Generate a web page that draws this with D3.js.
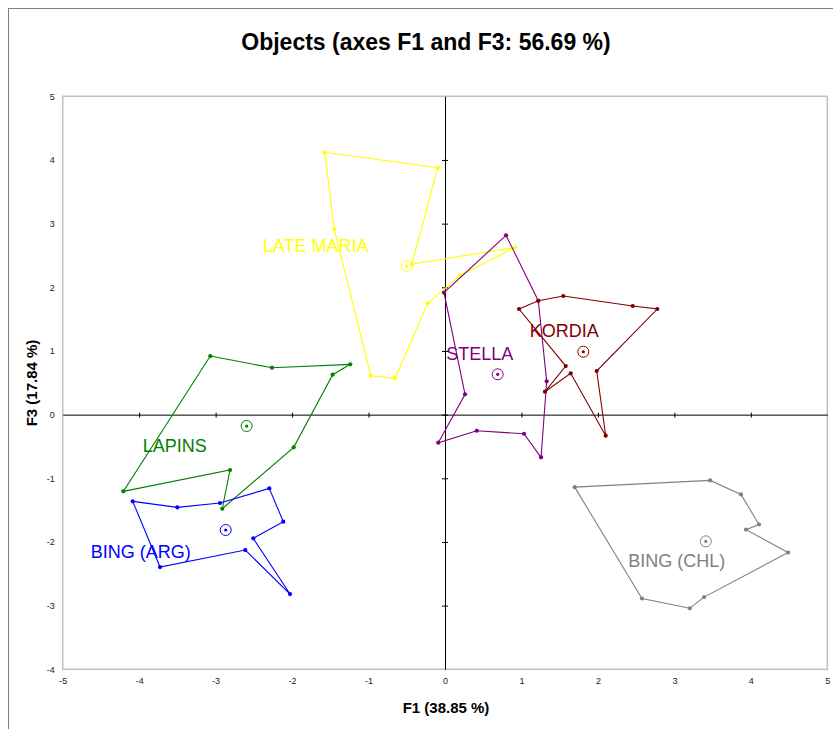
<!DOCTYPE html>
<html>
<head>
<meta charset="utf-8">
<script src="https://cdn.jsdelivr.net/npm/d3@7"></script>
<style>
  html, body { margin: 0; padding: 0; background: #fff; }
  svg { display: block; font-family: "Liberation Sans", Arial, sans-serif; }
</style>
</head>
<body>
<svg id="chart" width="833" height="729"></svg>
<script>
// Factor map: observation polygons per cultivar on axes F1 and F3
const groupNames = ["LATE MARIA", "STELLA", "KORDIA", "LAPINS", "BING (ARG)", "BING (CHL)"];
const groupColors = ["#ffff00", "#800080", "#800000", "#008000", "#0000ff", "#808080"];

// polygon vertices [F1, F3] in drawing order
const lateMaria = [[-1.573, 4.120], [-0.095, 3.878], [-0.432, 2.365], [0.916, 2.624], [0.196, 2.185],
                   [-0.226, 1.748], [-0.654, 0.570], [-0.972, 0.611], [-1.448, 2.910]];
const stella = [[-0.013, 1.915], [0.798, 2.816], [1.220, 1.789], [1.330, 0.523], [1.256, -0.671],
                [1.033, -0.300], [0.415, -0.253], [-0.088, -0.441], [0.262, 0.319]];
const kordia = [[0.968, 1.659], [1.220, 1.789], [1.547, 1.863], [2.455, 1.706], [2.777, 1.659],
                [1.984, 0.685], [2.102, -0.331], [1.644, 0.649], [1.308, 0.360], [1.579, 0.763]];
const lapins = [[-3.070, 0.920], [-2.263, 0.737], [-1.239, 0.790], [-1.469, 0.627], [-1.979, -0.514],
                [-2.913, -1.478], [-2.812, -0.870], [-4.207, -1.205]];
const bingArg = [[-4.084, -1.362], [-3.501, -1.456], [-2.943, -1.388], [-2.298, -1.158], [-2.115, -1.682],
                 [-2.507, -1.943], [-2.027, -2.818], [-2.612, -2.127], [-3.727, -2.394]];
const bingChl = [[1.696, -1.139], [3.468, -1.033], [3.871, -1.253], [4.107, -1.726], [3.937, -1.806],
                 [4.487, -2.167], [3.389, -2.866], [3.202, -3.041], [2.576, -2.888]];

// group centroids [F1, F3]
const centroids = [[-0.501, 2.334], [0.689, 0.633], [1.809, 0.988], [-2.594, -0.179], [-2.868, -1.812], [3.411, -1.990]];

const xTicks = [-5, -4, -3, -2, -1, 0, 1, 2, 3, 4, 5];
const yTicks = [-4, -3, -2, -1, 0, 1, 2, 3, 4, 5];

const polygons = [lateMaria, stella, kordia, lapins, bingArg, bingChl];

// label offsets (px) from each centroid
const labelOffsets = [[-91, -20], [-18, -21], [-19, -21], [-72, 20], [-85, 22], [-29, 19]];

const svg = d3.select("#chart");
const plot = { left: 62.7, right: 827.3, top: 96.3, bottom: 669.3 };

const x = d3.scaleLinear().domain([-5, 5]).range([plot.left, plot.right]);
const y = d3.scaleLinear().domain([-4, 5]).range([plot.bottom, plot.top]);
const tickFmt = d => String(d);

// outer chart frame
svg.append("rect").attr("x", 8.5).attr("y", 8.5).attr("width", 840).attr("height", 740)
  .attr("fill", "none").attr("stroke", "#808080").attr("stroke-width", 1);

// plot area border
svg.append("rect")
  .attr("x", plot.left).attr("y", plot.top)
  .attr("width", plot.right - plot.left).attr("height", plot.bottom - plot.top)
  .attr("fill", "none").attr("stroke", "#c0c0c0").attr("stroke-width", 1.5);

// title
svg.append("text").attr("x", 426).attr("y", 50).attr("text-anchor", "middle")
  .attr("font-size", 23).attr("font-weight", "bold").text("Objects (axes F1 and F3: 56.69 %)");

// tick labels along the plot border
const xLab = svg.append("g").attr("transform", `translate(0,${plot.bottom + 8})`)
  .call(d3.axisBottom(x).tickValues(xTicks).tickSize(0).tickPadding(0).tickFormat(tickFmt));
xLab.select(".domain").remove();
xLab.selectAll("text").attr("font-size", 9).attr("fill", "#222").attr("font-family", "Liberation Sans, Arial");

const yLab = svg.append("g").attr("transform", `translate(${plot.left - 8},0)`)
  .call(d3.axisLeft(y).tickValues(yTicks).tickSize(0).tickPadding(0).tickFormat(tickFmt));
yLab.select(".domain").remove();
yLab.selectAll("text").attr("font-size", 9).attr("fill", "#222").attr("font-family", "Liberation Sans, Arial");

// zero axes with tick marks crossing them
const xAxis = svg.append("g").attr("transform", `translate(0,${y(0)})`)
  .call(d3.axisBottom(x).tickValues(xTicks.filter(d => d > -5 && d < 5)).tickSize(3).tickSizeOuter(0).tickFormat(""));
xAxis.select(".domain").attr("stroke", "#000");
xAxis.selectAll(".tick line").attr("y1", -2).attr("y2", 3).attr("stroke", "#000");

const yAxis = svg.append("g").attr("transform", `translate(${x(0)},0)`)
  .call(d3.axisLeft(y).tickValues(yTicks.filter(d => d > -4 && d < 5)).tickSize(3).tickSizeOuter(0).tickFormat(""));
yAxis.select(".domain").attr("stroke", "#000");
yAxis.selectAll(".tick line").attr("x1", -3).attr("x2", 3).attr("stroke", "#000");

// axis titles
svg.append("text").attr("x", 446).attr("y", 713).attr("text-anchor", "middle")
  .attr("font-size", 15).attr("font-weight", "bold").text("F1 (38.85 %)");
svg.append("text").attr("transform", "translate(37,383) rotate(-90)").attr("text-anchor", "middle")
  .attr("font-size", 15).attr("font-weight", "bold").text("F3 (17.84 %)");

// polygons, vertices, centroids and labels
const line = d3.line().x(d => x(d[0])).y(d => y(d[1])).curve(d3.curveLinearClosed);

polygons.forEach((pts, i) => {
  const g = svg.append("g");
  const c = groupColors[i];
  g.append("path").attr("d", line(pts)).attr("fill", "none")
    .attr("stroke", c).attr("stroke-width", 1.1);
  g.selectAll("circle.v").data(pts).join("circle").attr("class", "v")
    .attr("cx", d => x(d[0])).attr("cy", d => y(d[1])).attr("r", 2.1).attr("fill", c);

  const [cx, cy] = [x(centroids[i][0]), y(centroids[i][1])];
  g.append("circle").attr("cx", cx).attr("cy", cy).attr("r", 5.5)
    .attr("fill", "none").attr("stroke", c).attr("stroke-width", 1);
  g.append("circle").attr("cx", cx).attr("cy", cy).attr("r", 1.6).attr("fill", c);

  g.append("text")
    .attr("x", cx + labelOffsets[i][0]).attr("y", cy + labelOffsets[i][1])
    .attr("dy", "0.35em").attr("text-anchor", "middle")
    .attr("font-size", 18).attr("fill", c).text(groupNames[i]);
});
</script>
</body>
</html>
